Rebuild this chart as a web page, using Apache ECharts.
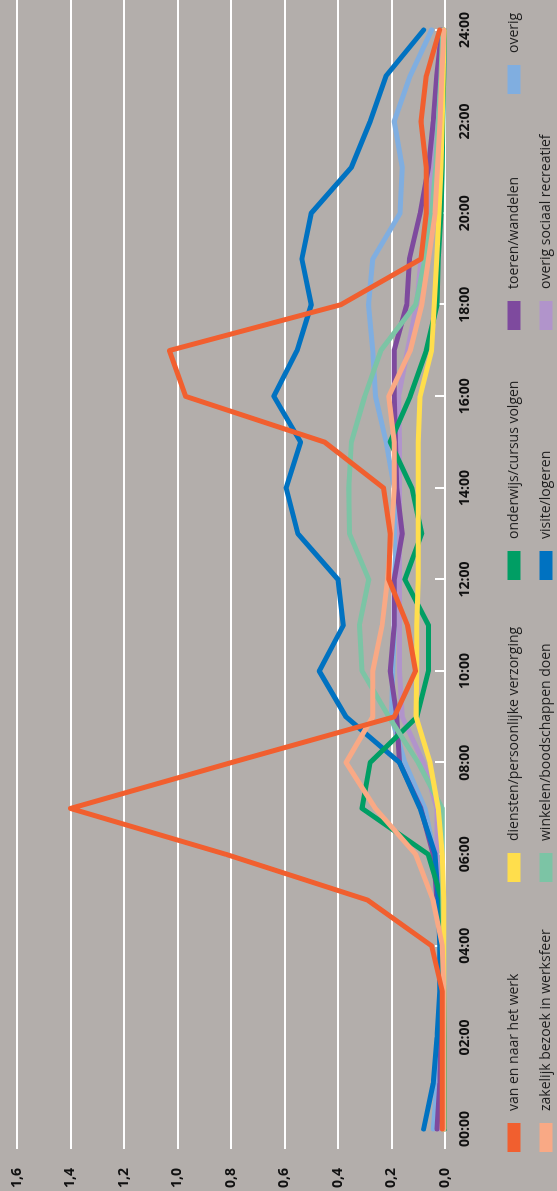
<!DOCTYPE html>
<html>
<head>
<meta charset="utf-8">
<script src="https://cdn.jsdelivr.net/npm/echarts@6/dist/echarts.min.js"></script>
<style>
  html, body { margin: 0; padding: 0; background: #b3aeab; overflow: hidden; }
  #wrap { position: absolute; left: 0; top: 0; width: 557px; height: 1191px; overflow: hidden; }
  /* chart is drawn landscape and turned a quarter turn */
  #chart {
    position: absolute; left: 0; top: 0; width: 1191px; height: 557px;
    transform-origin: 0 0; transform: translateY(1191px) rotate(-90deg);
  }
</style>
</head>
<body>
<div id="wrap"><div id="chart"></div></div>
<script>
// tijdstippen
const hours = ["00:00", "01:00", "02:00", "03:00", "04:00", "05:00", "06:00", "07:00", "08:00",
  "09:00", "10:00", "11:00", "12:00", "13:00", "14:00", "15:00", "16:00", "17:00", "18:00",
  "19:00", "20:00", "21:00", "22:00", "23:00", "24:00"];

const valueTicks = [0, 0.2, 0.4, 0.6, 0.8, 1.0, 1.2, 1.4, 1.6];

// waarden per motief
const werk = [0.01, 0.01, 0.01, 0.01, 0.05, 0.29, 0.82, 1.40, 0.80, 0.19, 0.11, 0.14, 0.21,
  0.205, 0.23, 0.45, 0.97, 1.03, 0.39, 0.09, 0.07, 0.07, 0.09, 0.07, 0.02];
const zakelijk = [0.005, 0.005, 0.005, 0.005, 0.01, 0.045, 0.11, 0.26, 0.37, 0.27, 0.27, 0.235, 0.215,
  0.2, 0.19, 0.19, 0.21, 0.13, 0.087, 0.062, 0.037, 0.028, 0.019, 0.012, 0.004];
const diensten = [0.005, 0.005, 0.005, 0.005, 0.005, 0.005, 0.01, 0.025, 0.056, 0.108, 0.106, 0.106, 0.10,
  0.10, 0.10, 0.10, 0.093, 0.05, 0.04, 0.031, 0.022, 0.015, 0.01, 0.007, 0.004];
const winkelen = [0.005, 0.005, 0.005, 0.005, 0.005, 0.008, 0.01, 0.01, 0.1, 0.21, 0.31, 0.32, 0.285,
  0.357, 0.36, 0.35, 0.30, 0.24, 0.11, 0.075, 0.05, 0.035, 0.025, 0.015, 0.008];
const onderwijs = [0.002, 0.002, 0.002, 0.005, 0.01, 0.012, 0.063, 0.31, 0.28, 0.105, 0.062, 0.062, 0.15,
  0.087, 0.124, 0.205, 0.13, 0.07, 0.03, 0.025, 0.015, 0.01, 0.008, 0.005, 0.003];
const visite = [0.08, 0.044, 0.03, 0.02, 0.02, 0.025, 0.037, 0.093, 0.17, 0.37, 0.47, 0.38, 0.40,
  0.55, 0.594, 0.54, 0.64, 0.553, 0.50, 0.535, 0.50, 0.35, 0.28, 0.22, 0.08];
const toeren = [0.03, 0.02, 0.015, 0.01, 0.015, 0.03, 0.044, 0.09, 0.17, 0.18, 0.205, 0.19, 0.19,
  0.16, 0.18, 0.185, 0.19, 0.19, 0.143, 0.133, 0.093, 0.062, 0.044, 0.031, 0.012];
const sociaal = [0.02, 0.015, 0.01, 0.01, 0.01, 0.02, 0.03, 0.03, 0.08, 0.16, 0.17, 0.17, 0.17,
  0.17, 0.17, 0.17, 0.174, 0.14, 0.106, 0.09, 0.06, 0.045, 0.035, 0.025, 0.015];
const overig = [0.044, 0.03, 0.02, 0.015, 0.015, 0.025, 0.04, 0.075, 0.15, 0.2, 0.195, 0.19, 0.19,
  0.18, 0.19, 0.22, 0.26, 0.27, 0.286, 0.27, 0.168, 0.16, 0.19, 0.13, 0.05];

const chart = echarts.init(document.getElementById("chart"));

const font = "'Open Sans', sans-serif";

// volgorde van tekenen: laatste ligt bovenop
const lines = [
  { name: "overig", data: overig, color: "#80aee0" },
  { name: "overig sociaal recreatief", data: sociaal, color: "#b194cb" },
  { name: "toeren/wandelen", data: toeren, color: "#7e4a9e" },
  { name: "visite/logeren", data: visite, color: "#0072c1" },
  { name: "onderwijs/cursus volgen", data: onderwijs, color: "#009e64" },
  { name: "winkelen/boodschappen doen", data: winkelen, color: "#7cc4a5" },
  { name: "diensten/persoonlijke verzorging", data: diensten, color: "#ffde4c" },
  { name: "zakelijk bezoek in werksfeer", data: zakelijk, color: "#f9a985" },
  { name: "van en naar het werk", data: werk, color: "#f15f2f" }
];

const legendCols = [
  { left: 39, data: ["van en naar het werk", "zakelijk bezoek in werksfeer"] },
  { left: 309, data: ["diensten/persoonlijke verzorging", "winkelen/boodschappen doen"] },
  { left: 611, data: ["onderwijs/cursus volgen", "visite/logeren"] },
  { left: 861, data: ["toeren/wandelen", "overig sociaal recreatief"] },
  { left: 1097, data: ["overig"] }
];

const option = {
  backgroundColor: "#b3aeab",
  animation: false,
  grid: [
    { left: 42, right: 0, top: 17, bottom: 112 },
    { left: 62, right: 30, top: 17, bottom: 112 }
  ],
  legend: legendCols.map((c) => ({
    orient: "vertical",
    left: c.left,
    top: 507,
    padding: 0,
    itemWidth: 29,
    itemHeight: 13,
    itemGap: 18,
    icon: "rect",
    selectedMode: false,
    data: c.data,
    textStyle: { fontFamily: font, fontSize: 14, color: "#1e1e1e", lineHeight: 13, padding: [0, 0, 0, 7] }
  })),
  xAxis: [
    { gridIndex: 0, type: "value", show: false, min: 0, max: 1 },
    {
      gridIndex: 1,
      type: "category",
      data: hours,
      boundaryGap: false,
      axisLine: { show: false },
      axisTick: { inside: true, length: 10, interval: 1, lineStyle: { color: "#ffffff", width: 2 } },
      axisLabel: { interval: 1, margin: 13, fontFamily: font, fontWeight: "bold", fontSize: 14, color: "#111" },
      splitLine: { show: false }
    }
  ],
  yAxis: [
    {
      gridIndex: 0,
      type: "value",
      min: valueTicks[0],
      max: valueTicks[valueTicks.length - 1],
      interval: 0.2,
      axisLine: { show: false },
      axisTick: { show: false },
      axisLabel: {
        margin: 19,
        fontFamily: font,
        fontWeight: "bold",
        fontSize: 14,
        color: "#111",
        formatter: (v) => v.toFixed(1).replace(".", ",")
      },
      splitLine: { lineStyle: { color: "#ffffff", width: 2 } }
    },
    { gridIndex: 1, type: "value", min: 0, max: 1.6, show: false }
  ],
  series: lines.map((l) => ({
    name: l.name,
    type: "line",
    xAxisIndex: 1,
    yAxisIndex: 1,
    data: l.data,
    color: l.color,
    showSymbol: false,
    symbol: "none",
    clip: false,
    lineStyle: { width: 5, color: l.color, cap: "round", join: "round" }
  }))
};

chart.setOption(option);
</script>
</body>
</html>
